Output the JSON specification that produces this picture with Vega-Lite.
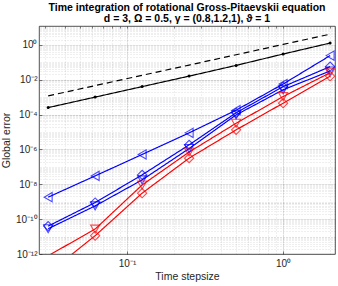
{
  "$schema": "https://vega.github.io/schema/vega-lite/v6.json",
  "width": 296,
  "height": 228,
  "autosize": {"type": "none"},
  "padding": {"left": 39, "top": 26, "right": 3, "bottom": 32},
  "background": "white",
  "title": {
    "text": ["Time integration of rotational Gross-Pitaevskii equation", "d = 3, Ω = 0.5, γ = (0.8,1.2,1), ϑ = 1"],
    "fontSize": 10.5,
    "font": "Liberation Sans",
    "fontWeight": "bold",
    "color": "#000000",
    "lineHeight": 11.5,
    "offset": 1,
    "anchor": "middle"
  },
  "config": {
    "view": {"stroke": "#262626", "strokeWidth": 0.8},
    "axis": {
      "domain": false,
      "labelFont": "Liberation Sans",
      "labelFontSize": 10,
      "labelColor": "#262626",
      "titleFont": "Liberation Sans",
      "titleFontSize": 10.5,
      "titleFontWeight": "normal",
      "titleColor": "#262626",
      "tickColor": "#262626",
      "tickWidth": 0.6,
      "labelOverlap": false,
      "labelFlush": false
    }
  },
  "data": {
    "values": [
      {"s": "ref", "x": 0.03125, "y": 1.17e-3},
      {"s": "ref", "x": 0.0625, "y": 4.57e-3},
      {"s": "ref", "x": 0.125, "y": 1.78e-2},
      {"s": "ref", "x": 0.25, "y": 6.9e-2},
      {"s": "ref", "x": 0.5, "y": 0.269},
      {"s": "ref", "x": 1, "y": 1.05},
      {"s": "ref", "x": 2, "y": 4.07},
      {"s": "black", "x": 0.03125, "y": 2.5e-4},
      {"s": "black", "x": 0.0625, "y": 1.0e-3},
      {"s": "black", "x": 0.125, "y": 4.0e-3},
      {"s": "black", "x": 0.25, "y": 1.6e-2},
      {"s": "black", "x": 0.5, "y": 6.6e-2},
      {"s": "black", "x": 1, "y": 0.295},
      {"s": "black", "x": 2, "y": 1.26},
      {"s": "blueL", "x": 0.03125, "y": 1.82e-9},
      {"s": "blueL", "x": 0.0625, "y": 3.02e-8},
      {"s": "blueL", "x": 0.125, "y": 5.13e-7},
      {"s": "blueL", "x": 0.25, "y": 8.9e-6},
      {"s": "blueL", "x": 0.5, "y": 1.78e-4},
      {"s": "blueL", "x": 1, "y": 5.62e-3},
      {"s": "blueL", "x": 2, "y": 0.24},
      {"s": "blueD", "x": 0.03125, "y": 3.98e-11},
      {"s": "blueD", "x": 0.0625, "y": 8.9e-10},
      {"s": "blueD", "x": 0.125, "y": 3.47e-8},
      {"s": "blueD", "x": 0.25, "y": 1.82e-6},
      {"s": "blueD", "x": 0.5, "y": 1.26e-4},
      {"s": "blueD", "x": 1, "y": 3.98e-3},
      {"s": "blueD", "x": 2, "y": 5.62e-2},
      {"s": "blueT", "x": 0.03125, "y": 2.82e-11},
      {"s": "blueT", "x": 0.0625, "y": 5.75e-10},
      {"s": "blueT", "x": 0.125, "y": 1.78e-8},
      {"s": "blueT", "x": 0.25, "y": 1.12e-6},
      {"s": "blueT", "x": 0.5, "y": 9.55e-5},
      {"s": "blueT", "x": 1, "y": 2.63e-3},
      {"s": "blueT", "x": 2, "y": 3.16e-2},
      {"s": "redT", "x": 0.03125, "y": 7.94e-13},
      {"s": "redT", "x": 0.0625, "y": 2.69e-11},
      {"s": "redT", "x": 0.125, "y": 9.12e-9},
      {"s": "redT", "x": 0.25, "y": 7.08e-7},
      {"s": "redT", "x": 0.5, "y": 3.16e-5},
      {"s": "redT", "x": 1, "y": 1.07e-3},
      {"s": "redT", "x": 2, "y": 2.51e-2},
      {"s": "redD", "x": 0.03125, "y": 7.94e-14},
      {"s": "redD", "x": 0.0625, "y": 1.12e-11},
      {"s": "redD", "x": 0.125, "y": 3.09e-9},
      {"s": "redD", "x": 0.25, "y": 3.16e-7},
      {"s": "redD", "x": 0.5, "y": 1.32e-5},
      {"s": "redD", "x": 1, "y": 4.47e-4},
      {"s": "redD", "x": 2, "y": 1.58e-2}
    ]
  },
  "layer": [
    {
      "mark": {"type": "line", "clip": true, "strokeWidth": 1.2},
      "encoding": {
        "x": {
          "field": "x", "type": "quantitative",
          "scale": {"type": "log", "domain": [0.0273, 2.15], "nice": false},
          "axis": {
            "orient": "bottom",
            "values": [0.1, 1],
            "labelExpr": "datum.value < 0.5 ? '10⁻¹' : '10⁰'",
            "grid": true, "gridColor": "#262626", "gridOpacity": 0.15, "gridWidth": 0.6,
            "tickSize": -3, "labelPadding": 7,
            "title": "Time stepsize", "titlePadding": 3
          }
        },
        "y": {
          "field": "y", "type": "quantitative",
          "scale": {"type": "log", "domain": [1e-12, 12], "nice": false},
          "axis": {
            "orient": "left",
            "values": [1e-12, 1e-10, 1e-8, 1e-6, 1e-4, 1e-2, 1],
            "labelExpr": "['10⁰','10⁻²','10⁻⁴','10⁻⁶','10⁻⁸','10⁻¹⁰','10⁻¹²'][round(-log(datum.value)/LN10/2)]",
            "grid": true, "gridColor": "#262626", "gridOpacity": 0.15, "gridWidth": 0.6,
            "tickSize": -3, "labelPadding": 5,
            "title": "Global error", "titlePadding": 4
          }
        },
        "color": {
          "field": "s", "type": "nominal",
          "scale": {"domain": ["ref", "black", "blueL", "blueD", "blueT", "redT", "redD"],
                    "range": ["#000000", "#000000", "#0000ff", "#0000ff", "#0000ff", "#ff0000", "#ff0000"]},
          "legend": null
        },
        "strokeDash": {
          "field": "s", "type": "nominal",
          "scale": {"domain": ["ref", "black", "blueL", "blueD", "blueT", "redT", "redD"],
                    "range": [[6, 4], [1, 0], [1, 0], [1, 0], [1, 0], [1, 0], [1, 0]]},
          "legend": null
        }
      }
    },
    {
      "transform": [{"filter": "datum.s != 'ref' && datum.s != 'black' && datum.y >= 1e-12"}],
      "mark": {"type": "point", "clip": true, "filled": false, "size": 85, "strokeWidth": 1.1},
      "encoding": {
        "x": {
          "field": "x", "type": "quantitative",
          "scale": {"type": "log", "domain": [0.0273, 2.15], "nice": false},
          "axis": {
            "orient": "top",
            "values": [0.03, 0.04, 0.05, 0.06, 0.07, 0.08, 0.09, 0.1, 0.2, 0.3, 0.4, 0.5, 0.6, 0.7, 0.8, 0.9, 1, 2],
            "labels": false, "title": null,
            "grid": true, "gridColor": "#262626", "gridOpacity": 0.25, "gridDash": [1, 2], "gridWidth": 0.6,
            "tickSize": -2
          }
        },
        "y": {
          "field": "y", "type": "quantitative",
          "scale": {"type": "log", "domain": [1e-12, 12], "nice": false},
          "axis": {
            "orient": "right",
            "values": [2e-12, 3e-12, 4e-12, 5e-12, 6e-12, 7e-12, 8e-12, 9e-12, 1e-11,
                       2e-11, 3e-11, 4e-11, 5e-11, 6e-11, 7e-11, 8e-11, 9e-11, 1e-10,
                       2e-10, 3e-10, 4e-10, 5e-10, 6e-10, 7e-10, 8e-10, 9e-10, 1e-9,
                       2e-9, 3e-9, 4e-9, 5e-9, 6e-9, 7e-9, 8e-9, 9e-9, 1e-8,
                       2e-8, 3e-8, 4e-8, 5e-8, 6e-8, 7e-8, 8e-8, 9e-8, 1e-7,
                       2e-7, 3e-7, 4e-7, 5e-7, 6e-7, 7e-7, 8e-7, 9e-7, 1e-6,
                       2e-6, 3e-6, 4e-6, 5e-6, 6e-6, 7e-6, 8e-6, 9e-6, 1e-5,
                       2e-5, 3e-5, 4e-5, 5e-5, 6e-5, 7e-5, 8e-5, 9e-5, 1e-4,
                       2e-4, 3e-4, 4e-4, 5e-4, 6e-4, 7e-4, 8e-4, 9e-4, 1e-3,
                       2e-3, 3e-3, 4e-3, 5e-3, 6e-3, 7e-3, 8e-3, 9e-3, 1e-2,
                       2e-2, 3e-2, 4e-2, 5e-2, 6e-2, 7e-2, 8e-2, 9e-2, 1e-1,
                       0.2, 0.3, 0.4, 0.5, 0.6, 0.7, 0.8, 0.9, 1,
                       2, 3, 4, 5, 6, 7, 8, 9, 10],
            "labels": false, "title": null,
            "grid": true, "gridColor": "#262626", "gridOpacity": 0.25, "gridDash": [1, 2], "gridWidth": 0.6,
            "ticks": false
          }
        },
        "color": {
          "field": "s", "type": "nominal",
          "scale": {"domain": ["ref", "black", "blueL", "blueD", "blueT", "redT", "redD"],
                    "range": ["#000000", "#000000", "#0000ff", "#0000ff", "#0000ff", "#ff0000", "#ff0000"]},
          "legend": null
        },
        "shape": {
          "field": "s", "type": "nominal",
          "scale": {"domain": ["blueL", "blueD", "blueT", "redT", "redD"],
                    "range": ["triangle-left", "diamond", "triangle-down", "triangle-down", "diamond"]},
          "legend": null
        }
      }
    },
    {
      "transform": [{"filter": "datum.s == 'black'"}],
      "mark": {"type": "circle", "clip": true, "size": 9, "color": "#000000", "opacity": 1},
      "encoding": {
        "x": {"field": "x", "type": "quantitative", "scale": {"type": "log", "domain": [0.0273, 2.15], "nice": false}, "axis": null},
        "y": {"field": "y", "type": "quantitative", "scale": {"type": "log", "domain": [1e-12, 12], "nice": false}, "axis": null}
      }
    }
  ]
}
